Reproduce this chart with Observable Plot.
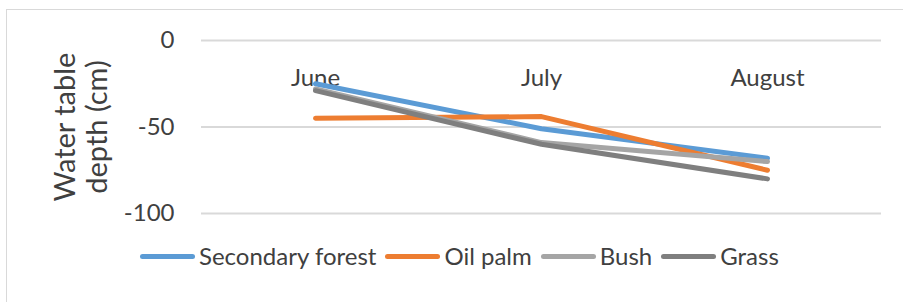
<!DOCTYPE html>
<html><head><meta charset="utf-8">
<script src="https://cdn.jsdelivr.net/npm/d3@7"></script>
<script src="https://cdn.jsdelivr.net/npm/@observablehq/plot@0.6"></script>
<style>
body{margin:0;background:#fff;}
#wrap{position:relative;width:903px;height:302px;overflow:hidden;font-family:Lato,sans-serif;color:#404040;}
#frame{position:absolute;left:6px;top:9px;width:1000px;height:400px;border:1.5px solid #d9d9d9;}
#chart{position:absolute;left:0;top:0;}
#legend{position:absolute;left:140px;top:241px;display:flex;align-items:center;font-size:24px;line-height:30px;white-space:nowrap;}
.item{display:flex;align-items:center;margin-right:9px;}
.sw{width:55px;height:5px;border-radius:3px;margin-right:4px;}
</style></head><body>
<div id="wrap"><div id="frame"></div><div id="chart"></div><div id="legend"></div></div>
<script>
const months = ["June", "July", "August"];
const seriesNames = ["Secondary forest", "Oil palm", "Bush", "Grass"];
const secondaryForest = [-25, -51, -68];
const oilPalm = [-45, -44, -75];
const bush = [-28, -59, -70];
const grass = [-29, -60, -80];
const seriesColors = ["#5b9bd5", "#ed7d31", "#a5a5a5", "#7f7f7f"];
const yTicks = [0, -50, -100];
const yTitle = "Water table\ndepth (cm)";

const allSeries = [secondaryForest, oilPalm, bush, grass];
const data = [];
allSeries.forEach((vals, i) => vals.forEach((v, j) => data.push({series: seriesNames[i], month: months[j], value: v})));

const chart = Plot.plot({
  width: 903, height: 240,
  marginLeft: 201, marginRight: 22, marginTop: 40, marginBottom: 27,
  style: {fontFamily: "Lato, sans-serif", color: "#404040", background: "transparent", overflow: "visible"},
  x: {type: "point", domain: months, padding: 0.5, axis: null},
  y: {domain: [-100, 0], axis: null},
  color: {domain: seriesNames, range: seriesColors},
  marks: [
    Plot.gridY(yTicks, {stroke: "#d9d9d9", strokeOpacity: 1, strokeWidth: 2}),
    Plot.axisY(yTicks, {tickSize: 0, tickPadding: 27, fontSize: 24, label: null, fill: "#404040", tickFormat: d => String(d)}),
    Plot.text(months, {x: d => d, frameAnchor: "top", dy: 45, lineAnchor: "bottom", fontSize: 24, fill: "#404040"}),
    Plot.line(data, {x: "month", y: "value", z: "series", stroke: "series", strokeWidth: 5, strokeLinecap: "round", strokeLinejoin: "round"}),
    Plot.text([yTitle], {frameAnchor: "left", textAnchor: "middle", lineAnchor: "middle", rotate: -90, dx: -121, fontSize: 29, lineHeight: 1.12, fill: "#404040"})
  ]
});
document.getElementById("chart").appendChild(chart);

const legend = document.getElementById("legend");
seriesNames.forEach((name, i) => {
  const item = document.createElement("div");
  item.className = "item";
  const sw = document.createElement("div");
  sw.className = "sw";
  sw.style.background = seriesColors[i];
  const label = document.createElement("span");
  label.textContent = name;
  item.appendChild(sw);
  item.appendChild(label);
  legend.appendChild(item);
});
</script>
</body></html>
